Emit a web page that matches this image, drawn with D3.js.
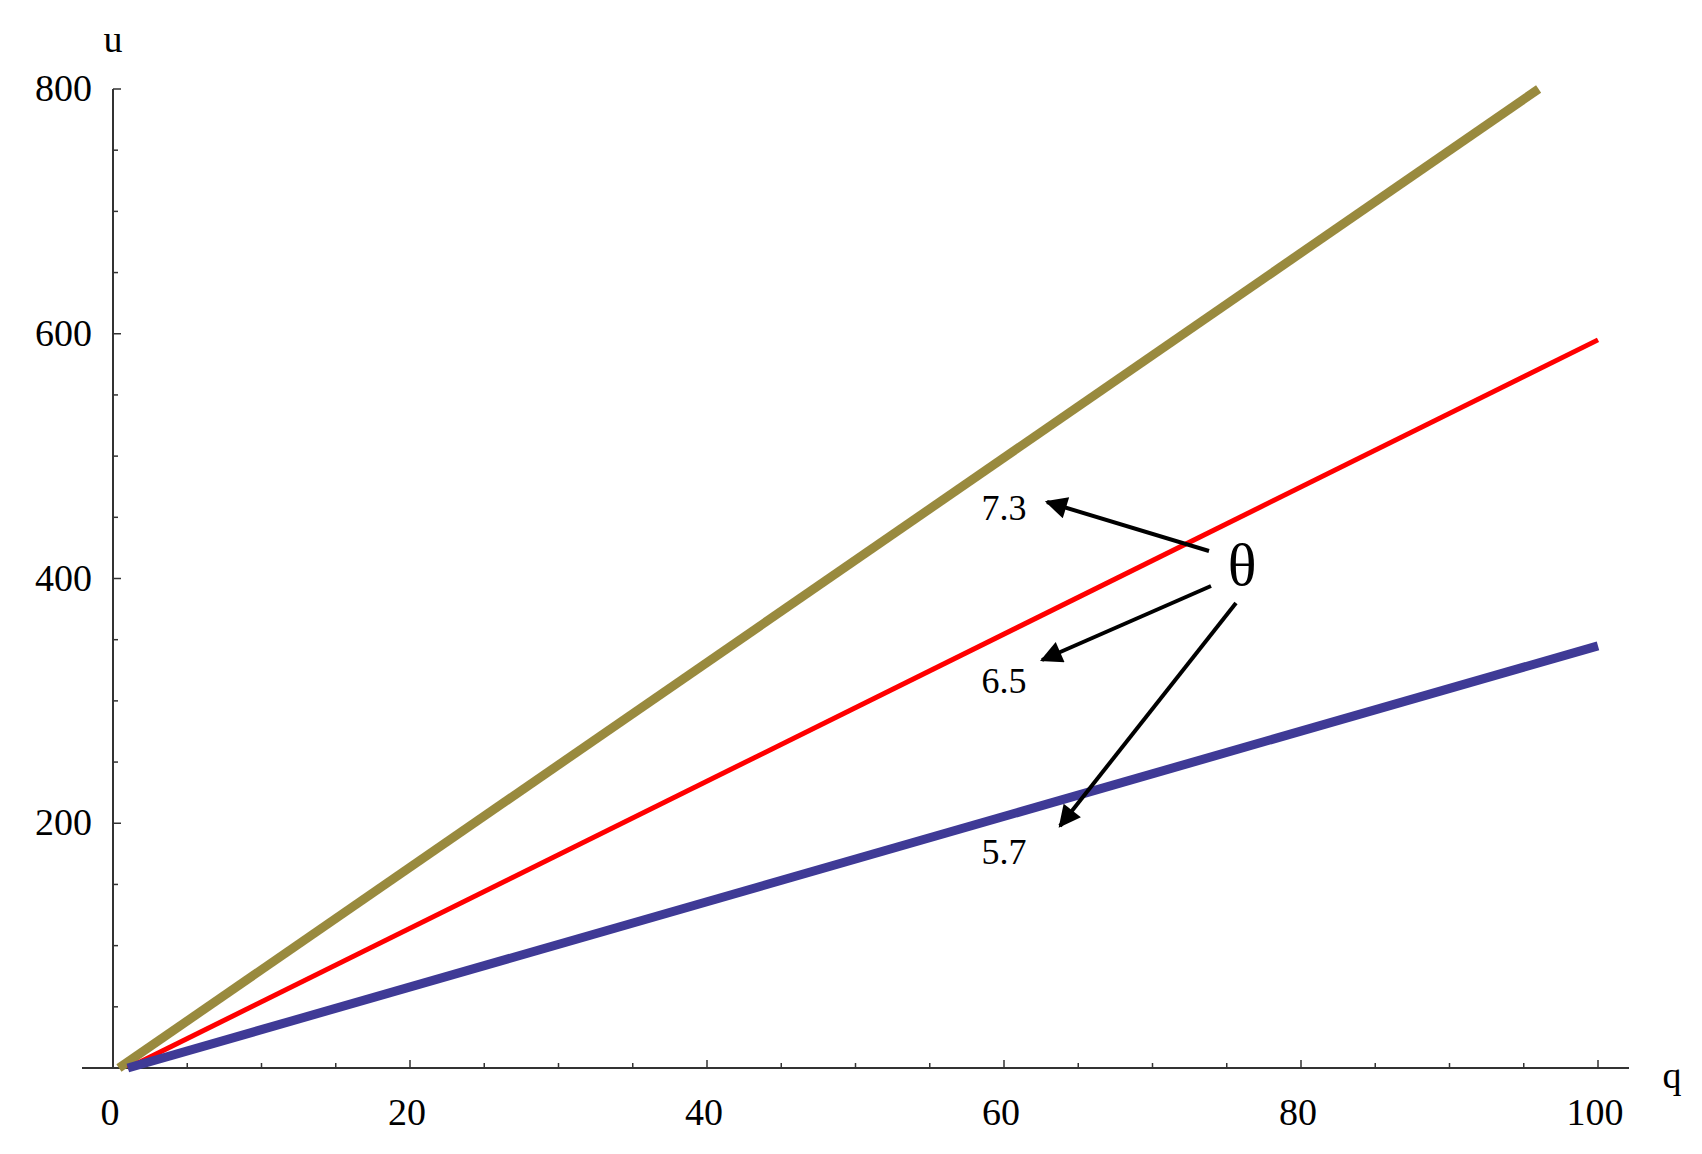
<!DOCTYPE html><html><head><meta charset="utf-8"><script src="https://cdn.jsdelivr.net/npm/d3@7"></script>
<style>body{margin:0;background:#fff}text{font-family:"Liberation Serif","DejaVu Serif",serif}</style></head><body>
<script>
const xTicks=[0,20,40,60,80,100];
const yTicks=[200,400,600,800];
const seriesNames=["7.3","6.5","5.7"];
const seriesQ=[[0.4,96],[1,100],[1,100]];
const seriesU=[[0,800],[0,595],[0,345]];
const colors=["#998a3e","#ff0000","#3f3a96"];
const widths=[9,5,9];
const W=1702,H=1154;
const svg=d3.select("body").append("svg").attr("width",W).attr("height",H);
const x=d3.scaleLinear().domain([0,100]).range([113,1598]);
const y=d3.scaleLinear().domain([0,800]).range([1068,89]);
const g=svg.append("g");
// axes lines
g.append("line").attr("x1",82).attr("x2",1629).attr("y1",y(0)).attr("y2",y(0)).attr("stroke","#333").attr("stroke-width",2);
g.append("line").attr("x1",x(0)).attr("x2",x(0)).attr("y1",y(0)).attr("y2",y(800)).attr("stroke","#333").attr("stroke-width",2);
d3.range(5,101,5).forEach(v=>{const maj=v%20===0;g.append("line").attr("x1",x(v)).attr("x2",x(v)).attr("y1",y(0)).attr("y2",y(0)-(maj?8:5)).attr("stroke","#333").attr("stroke-width",1.5);});
d3.range(50,801,50).forEach(v=>{const maj=v%200===0;g.append("line").attr("x1",x(0)).attr("x2",x(0)+(maj?8:5)).attr("y1",y(v)).attr("y2",y(v)).attr("stroke","#333").attr("stroke-width",1.5);});
g.selectAll(".xt").data(xTicks).join("text").attr("x",d=>x(d)-3).attr("y",1125).attr("text-anchor","middle").attr("font-size",38).text(d=>d);
g.selectAll(".yt").data(yTicks).join("text").attr("x",92).attr("y",d=>y(d)+12).attr("text-anchor","end").attr("font-size",38).text(d=>d);
svg.append("text").attr("x",113).attr("y",52).attr("text-anchor","middle").attr("font-size",38).text("u");
svg.append("text").attr("x",1672).attr("y",1088).attr("text-anchor","middle").attr("font-size",38).text("q");
const line=d3.line().x(d=>x(d[0])).y(d=>y(d[1]));
seriesQ.forEach((qs,i)=>{const pts=qs.map((q,j)=>[q,seriesU[i][j]]);
svg.append("path").attr("d",line(pts)).attr("fill","none").attr("stroke",colors[i]).attr("stroke-width",widths[i]);});
// annotations
svg.append("defs").append("marker").attr("id","ah").attr("viewBox","0 0 10 10").attr("refX",9).attr("refY",5).attr("markerWidth",7).attr("markerHeight",7).attr("orient","auto").attr("markerUnits","userSpaceOnUse").attr("markerWidth",26).attr("markerHeight",22).append("path").attr("d","M0,0L10,5L0,10z").attr("fill","#000");
const labelPos=[[1004,520],[1004,693],[1004,864]];
const arrows=[[1209,551,1047,502],[1211,586,1042,660],[1236,603,1060,826]];
seriesNames.forEach((n,i)=>{svg.append("text").attr("x",labelPos[i][0]).attr("y",labelPos[i][1]).attr("text-anchor","middle").attr("font-size",36).text(n);
const a=arrows[i];svg.append("line").attr("x1",a[0]).attr("y1",a[1]).attr("x2",a[2]).attr("y2",a[3]).attr("stroke","#000").attr("stroke-width",4).attr("marker-end","url(#ah)");});
svg.append("text").attr("x",1242).attr("y",585).attr("text-anchor","middle").attr("font-size",60).text("θ");
</script></body></html>
